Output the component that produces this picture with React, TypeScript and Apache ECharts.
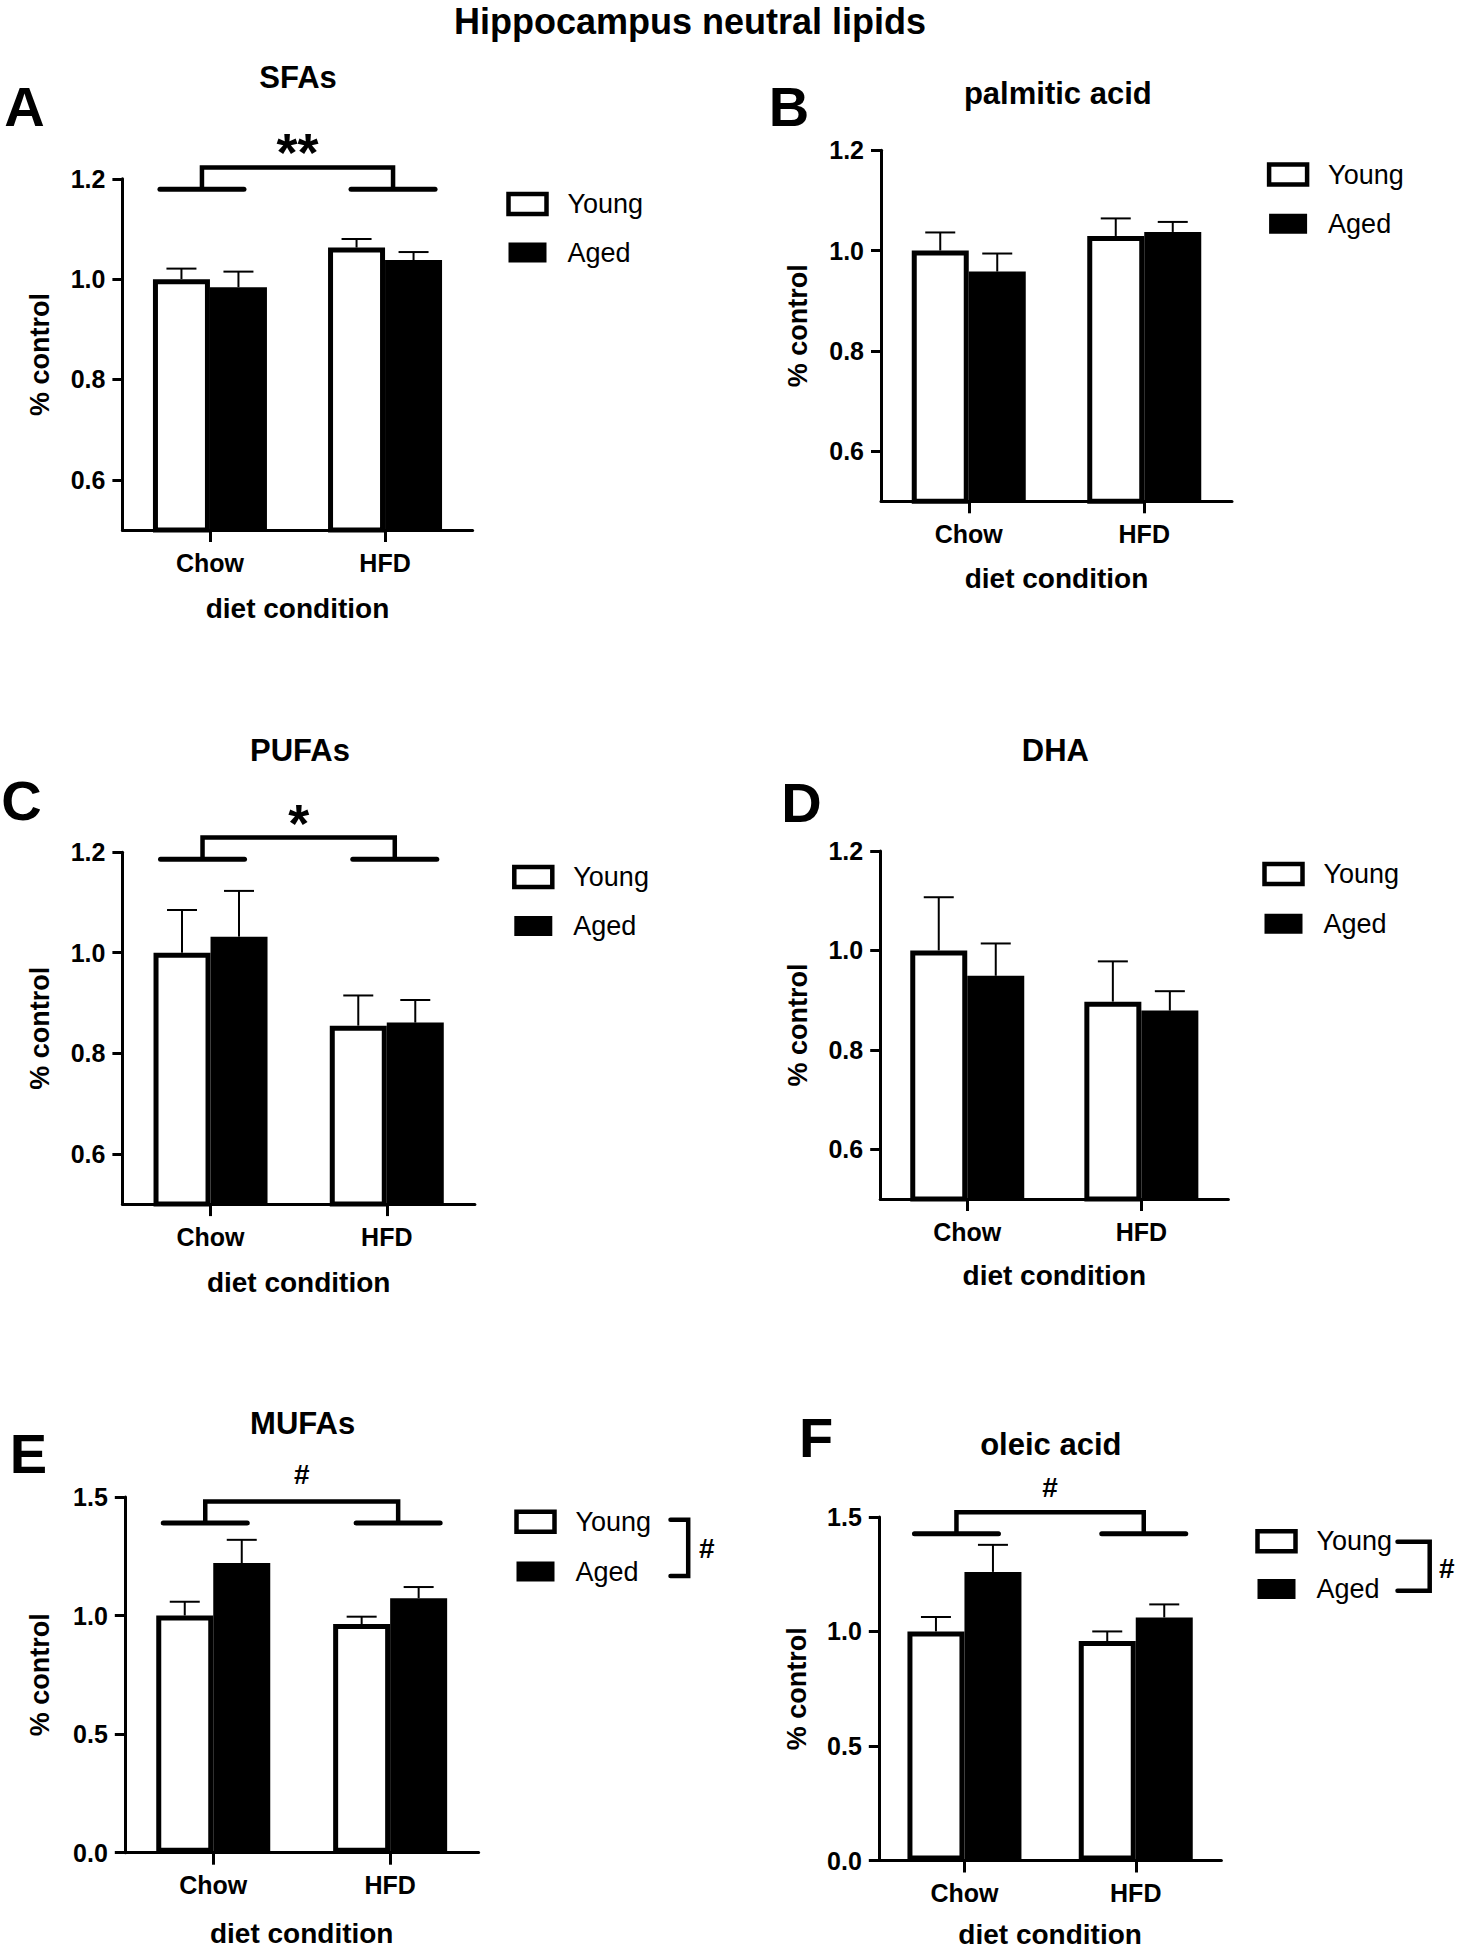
import React, { useEffect, useRef } from 'react';
import * as echarts from 'echarts';

// ---------------- data ----------------
const categories = ['Chow', 'HFD'];
const groupNames = ['Young', 'Aged'];
const mainTitle = 'Hippocampus neutral lipids';
const panelTitles = ['SFAs', 'palmitic acid', 'PUFAs', 'DHA', 'MUFAs', 'oleic acid'];
const panelLetters = ['A', 'B', 'C', 'D', 'E', 'F'];
const xAxisName = 'diet condition';
const yAxisName = '% control';

// means (Chow, HFD) and upper error (SEM)
const sfaYoung = [1.0, 1.063];
const sfaYoungErr = [0.021, 0.017];
const sfaAged = [0.984, 1.038];
const sfaAgedErr = [0.031, 0.016];

const palmYoung = [1.0, 1.029];
const palmYoungErr = [0.036, 0.035];
const palmAged = [0.958, 1.037];
const palmAgedErr = [0.036, 0.02];

const pufaYoung = [1.0, 0.855];
const pufaYoungErr = [0.085, 0.06];
const pufaAged = [1.032, 0.861];
const pufaAgedErr = [0.091, 0.045];

const dhaYoung = [1.0, 0.897];
const dhaYoungErr = [0.107, 0.081];
const dhaAged = [0.949, 0.879];
const dhaAgedErr = [0.065, 0.039];

const mufaYoung = [1.0, 0.964];
const mufaYoungErr = [0.058, 0.031];
const mufaAged = [1.221, 1.073];
const mufaAgedErr = [0.098, 0.047];

const oleicYoung = [1.0, 0.958];
const oleicYoungErr = [0.063, 0.042];
const oleicAged = [1.26, 1.061];
const oleicAgedErr = [0.118, 0.057];

const yTicksLow = [0.6, 0.8, 1.0, 1.2];
const yTicksHigh = [0, 0.5, 1.0, 1.5];

// significance brackets: [segment level, top level, label level]
const sigA = [1.179, 1.2225, 1.253];
const sigC = [1.186, 1.229, 1.2585];
const sigE = [1.39, 1.481, 1.594];
const sigF = [1.426, 1.52, 1.628];
const sigLabels = ['**', null, '*', null, '#', '#'];
const legendSigLabel = '#';

// ---------------- styles / layout ----------------
const FONT = '"Liberation Sans", Arial, Helvetica, sans-serif';
const BAR_W = 57;
const CAP = 15;

const panels = [
  { young: sfaYoung, youngErr: sfaYoungErr, aged: sfaAged, agedErr: sfaAgedErr, min: 0.5, max: 1.2, ticks: yTicksLow, sig: sigA },
  { young: palmYoung, youngErr: palmYoungErr, aged: palmAged, agedErr: palmAgedErr, min: 0.5, max: 1.2, ticks: yTicksLow, sig: null },
  { young: pufaYoung, youngErr: pufaYoungErr, aged: pufaAged, agedErr: pufaAgedErr, min: 0.5, max: 1.2, ticks: yTicksLow, sig: sigC },
  { young: dhaYoung, youngErr: dhaYoungErr, aged: dhaAged, agedErr: dhaAgedErr, min: 0.5, max: 1.2, ticks: yTicksLow, sig: null },
  { young: mufaYoung, youngErr: mufaYoungErr, aged: mufaAged, agedErr: mufaAgedErr, min: 0, max: 1.5, ticks: yTicksHigh, sig: sigE },
  { young: oleicYoung, youngErr: oleicYoungErr, aged: oleicAged, agedErr: oleicAgedErr, min: 0, max: 1.5, ticks: yTicksHigh, sig: sigF },
];

const layouts = [
  { grid: { left: 122.4, top: 178.8, width: 350.2, height: 351.2 }, legend: [504, 204, 252.5], title: [298, 77.6], letter: [24.5, 106], xGap: 64, yGap: 69 },
  { grid: { left: 881, top: 150.2, width: 351, height: 351.1 }, legend: [1264.6, 174.5, 223.7], title: [1057.8, 93.9], letter: [789, 106], xGap: 63, yGap: 70 },
  { grid: { left: 122.4, top: 852.2, width: 352.5, height: 351.9 }, legend: [509.8, 877, 926], title: [300, 750.6], letter: [21.4, 800], xGap: 64, yGap: 69 },
  { grid: { left: 880.2, top: 851, width: 348.2, height: 348 }, legend: [1260, 874, 923.8], title: [1055.4, 750.6], letter: [801.5, 802.5], xGap: 62, yGap: 69 },
  { grid: { left: 124.8, top: 1496.9, width: 353.8, height: 355.8 }, legend: [512, 1521.7, 1571.6], title: [302.6, 1423.6], letter: [28.5, 1453], xGap: 67, yGap: 71 },
  { grid: { left: 878.8, top: 1516.9, width: 342.6, height: 343.6 }, legend: [1253, 1541.3, 1589], title: [1050.8, 1444], letter: [816, 1437], xGap: 60, yGap: 68 },
];

const legendBrackets = [
  { panel: 4, pts: [[670.5, 1519.8], [688.2, 1519.8], [688.2, 1576], [670.5, 1576]], label: [706.8, 1548.3] },
  { panel: 5, pts: [[1397.5, 1541.7], [1429.7, 1541.7], [1429.7, 1590.7], [1397.5, 1590.7]], label: [1446.7, 1568] },
];

function buildOption() {
  const grid: any[] = [];
  const xAxis: any[] = [];
  const yAxis: any[] = [];
  const legend: any[] = [];
  const series: any[] = [];
  const graphic: any[] = [];

  graphic.push({
    type: 'text', x: 690, y: 21, z: 10,
    style: { text: mainTitle, fontFamily: FONT, fontSize: 36, fontWeight: 'bold', fill: '#000', align: 'center', verticalAlign: 'middle' },
  });

  panels.forEach((p, i) => {
    const L = layouts[i];
    grid.push({ ...L.grid, containLabel: false });
    xAxis.push({
      gridIndex: i, type: 'category', data: categories,
      axisLine: { show: true, lineStyle: { color: '#000', width: 3 } },
      axisTick: { show: true, alignWithLabel: true, length: 12, lineStyle: { color: '#000', width: 3 } },
      axisLabel: { fontFamily: FONT, fontSize: 25, fontWeight: 'bold', color: '#000', margin: 20 },
      name: xAxisName, nameLocation: 'middle', nameGap: L.xGap,
      nameTextStyle: { fontFamily: FONT, fontSize: 28, fontWeight: 'bold', color: '#000' },
      splitLine: { show: false },
    });
    const y: any = {
      gridIndex: i, type: 'value', min: p.min, max: p.max,
      axisLine: { show: true, lineStyle: { color: '#000', width: 3 } },
      axisTick: { show: true, length: 10, lineStyle: { color: '#000', width: 3 }, customValues: p.ticks },
      axisLabel: {
        customValues: p.ticks,
        formatter: (v: number) => Number(v).toFixed(1),
        fontFamily: FONT, fontSize: 25, fontWeight: 'bold', color: '#000', margin: 17,
      },
      splitLine: { show: false },
      name: yAxisName, nameLocation: 'middle', nameGap: L.yGap,
      nameTextStyle: { fontFamily: FONT, fontSize: 27, fontWeight: 'bold', color: '#000' },
    };
    if (p.max === 1.5) y.interval = 0.5;
    yAxis.push(y);

    legend.push({
      orient: 'vertical', left: L.legend[0] + 2.25, top: L.legend[1] - 13.5,
      itemWidth: 38, itemHeight: 20, itemGap: (L.legend[2] - L.legend[1]) - 27, padding: 0,
      selectedMode: false, icon: 'rect',
      data: [
        { name: groupNames[0], itemStyle: { color: '#fff', borderColor: '#000', borderWidth: 4.5 } },
        { name: groupNames[1], itemStyle: { color: '#000', borderColor: '#000', borderWidth: 0 } },
      ],
      textStyle: { fontFamily: FONT, fontSize: 27, color: '#000', padding: [0, 0, 0, 16] },
    });

    series.push({
      type: 'bar', name: groupNames[0], xAxisIndex: i, yAxisIndex: i, data: p.young,
      barWidth: BAR_W, barGap: '0%', z: 2,
      itemStyle: { color: '#fff', borderColor: '#000', borderWidth: 5 },
    });
    series.push({
      type: 'bar', name: groupNames[1], xAxisIndex: i, yAxisIndex: i, data: p.aged,
      barWidth: BAR_W, barGap: '0%', z: 2,
      itemStyle: { color: '#000', borderColor: '#000', borderWidth: 0 },
    });

    const errData: any[] = [];
    categories.forEach((_, c) => {
      errData.push([c, p.young[c], p.youngErr[c], 0]);
      errData.push([c, p.aged[c], p.agedErr[c], 1]);
    });
    series.push({
      type: 'custom', name: 'err' + i, xAxisIndex: i, yAxisIndex: i, z: 4, clip: false, silent: true,
      dimensions: ['cat', 'mean', 'err', 'grp'],
      encode: { x: 0, y: 1 },
      data: errData,
      renderItem: (params: any, api: any) => {
        const cat = api.value(0);
        const mean = api.value(1);
        const top = mean + api.value(2);
        const grp = api.value(3);
        const base = api.coord([cat, mean]);
        const hi = api.coord([cat, top]);
        const x = base[0] + (grp === 0 ? -1 : 1) * BAR_W / 2;
        return {
          type: 'group',
          children: [
            { type: 'line', shape: { x1: x, y1: base[1], x2: x, y2: hi[1] }, style: { stroke: '#000', lineWidth: 2 } },
            { type: 'line', shape: { x1: x - CAP, y1: hi[1], x2: x + CAP, y2: hi[1] }, style: { stroke: '#000', lineWidth: 2 } },
          ],
        };
      },
    });

    if (p.sig) {
      const label = sigLabels[i] as string;
      series.push({
        type: 'custom', name: 'sig' + i, xAxisIndex: i, yAxisIndex: i, z: 5, clip: false, silent: true,
        encode: { x: 0, y: 1 },
        data: [[0, p.sig[0], p.sig[1], p.sig[2]]],
        renderItem: (params: any, api: any) => {
          const lo = api.value(1);
          const hiV = api.value(2);
          const lab = api.value(3);
          const p0 = api.coord([0, lo]);
          const p1 = api.coord([1, lo]);
          const yTop = api.coord([0, hiV])[1];
          const yLab = api.coord([0, lab])[1];
          const lx = p0[0] - 8;
          const rx = p1[0] + 8;
          const half = 42;
          return {
            type: 'group',
            children: [
              { type: 'line', shape: { x1: lx - half, y1: p0[1], x2: lx + half, y2: p0[1] }, style: { stroke: '#000', lineWidth: 5, lineCap: 'round' } },
              { type: 'line', shape: { x1: rx - half, y1: p0[1], x2: rx + half, y2: p0[1] }, style: { stroke: '#000', lineWidth: 5, lineCap: 'round' } },
              { type: 'polyline', shape: { points: [[lx, p0[1]], [lx, yTop], [rx, yTop], [rx, p0[1]]] }, style: { stroke: '#000', lineWidth: 4.5, fill: null, lineJoin: 'miter' } },
              {
                type: 'text', x: (p0[0] + p1[0]) / 2, y: yLab,
                style: {
                  text: label, fontFamily: FONT, fontWeight: 'bold', fill: '#000',
                  fontSize: label === '#' ? 28 : 54, align: 'center', verticalAlign: 'middle',
                },
              },
            ],
          };
        },
      });
    }

    graphic.push({
      type: 'text', x: L.title[0], y: L.title[1], z: 10,
      style: { text: panelTitles[i], fontFamily: FONT, fontSize: 31, fontWeight: 'bold', fill: '#000', align: 'center', verticalAlign: 'middle' },
    });
    graphic.push({
      type: 'text', x: L.letter[0], y: L.letter[1], z: 10,
      style: { text: panelLetters[i], fontFamily: FONT, fontSize: 56, fontWeight: 'bold', fill: '#000', align: 'center', verticalAlign: 'middle' },
    });
  });

  legendBrackets.forEach((b) => {
    graphic.push({
      type: 'polyline', z: 10,
      shape: { points: b.pts },
      style: { stroke: '#000', lineWidth: 4.5, fill: null, lineCap: 'round', lineJoin: 'miter' },
    });
    graphic.push({
      type: 'text', x: b.label[0], y: b.label[1], z: 10,
      style: { text: legendSigLabel, fontFamily: FONT, fontSize: 28, fontWeight: 'bold', fill: '#000', align: 'center', verticalAlign: 'middle' },
    });
  });

  return {
    animation: false,
    backgroundColor: '#fff',
    textStyle: { fontFamily: FONT },
    grid, xAxis, yAxis, legend, series, graphic,
  };
}

export default function App() {
  const ref = useRef<HTMLDivElement>(null);
  useEffect(() => {
    document.body.style.margin = '0';
    if (!ref.current) return;
    const chart = echarts.init(ref.current, undefined, { renderer: 'svg' });
    chart.setOption(buildOption() as any);
    return () => chart.dispose();
  }, []);
  return <div ref={ref} style={{ width: 1459, height: 1950 }} />;
}
